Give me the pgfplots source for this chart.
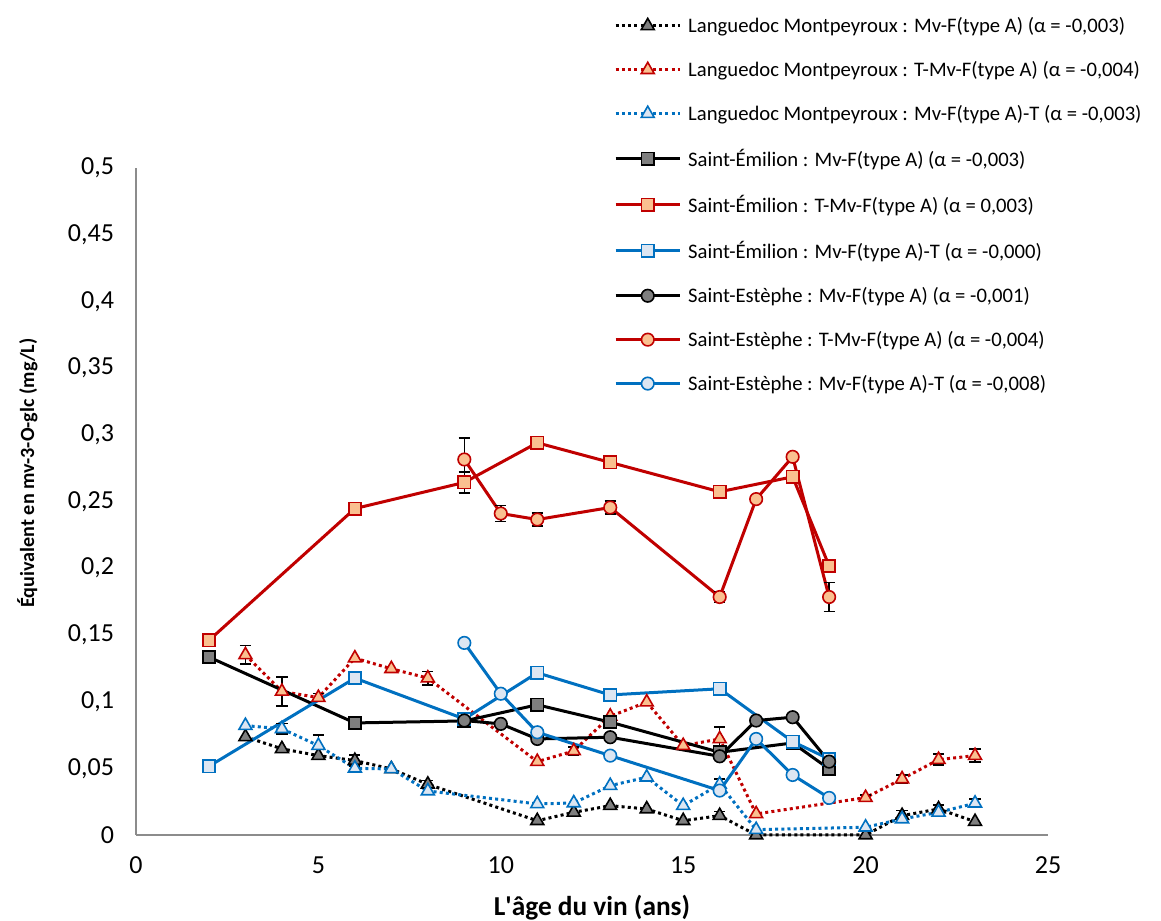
\documentclass[border=0pt]{standalone}
\usepackage{fontspec}
\setmainfont{Carlito}
\usepackage{pgfplots}
\pgfplotsset{compat=1.18}
\definecolor{dred}{HTML}{C00000}
\definecolor{lorange}{HTML}{FAC090}
\definecolor{mblue}{HTML}{0070C0}
\definecolor{lblue}{HTML}{DCE6F2}
\definecolor{mgrey}{HTML}{7F7F7F}
\definecolor{axgrey}{HTML}{8C8C8C}
\pgfplotsset{
  dotl/.style={line width=2.25pt, line cap=butt, dash pattern=on 2.25pt off 2.4pt},
  soll/.style={line width=2.25pt, solid},
  trimk/.style={mark=triangle*, mark size=5.6pt, mark options={solid, line width=1.2pt, fill=#1}},
  sqmk/.style={mark=square*, mark size=4.6pt, mark options={solid, line width=1.2pt, fill=#1}},
  cimk/.style={mark=*, mark size=4.7pt, mark options={solid, line width=1.2pt, fill=#1}},
  errp/.style={black, solid, only marks, forget plot, mark=none,
    error bars/.cd, y dir=both, y explicit, error mark=none,
    error bar style={draw=black, line width=1.2pt, solid}},
  capp/.style={black, solid, only marks, forget plot, mark=|, mark size=4.2pt,
    mark options={line width=1.2pt, solid, rotate=90}},
}
\begin{document}
\begin{tikzpicture}
\useasboundingbox (-102pt,-64.5pt) rectangle (768.75pt,626.25pt);
\begin{axis}[
  scale only axis, width=684pt, height=500.25pt,
  xmin=0, xmax=25, ymin=0, ymax=0.5,
  axis lines*=left,
  axis line style={draw=axgrey, line width=1.5pt, -},
  xtick={0,5,10,15,20,25},
  ytick={0,0.05,0.1,0.15,0.2,0.25,0.3,0.35,0.4,0.45,0.5},
  major tick length=0pt,
  scaled y ticks=false,
  /pgf/number format/use comma,
  /pgf/number format/1000 sep={},
  /pgf/number format/assume math mode=true,
  yticklabel style={/pgf/number format/fixed, /pgf/number format/precision=2, anchor=east, xshift=-13pt},
  xticklabel style={anchor=north, yshift=-13pt},
  ticklabel style={font=\fontsize{19.5}{23}\selectfont},
  xlabel={L\textquotesingle âge du vin (ans)},
  xlabel style={font=\bfseries\fontsize{20.5}{24}\selectfont, at={(axis description cs:0.5,-0.12)}, anchor=base},
  ylabel={Équivalent en mv-3-O-glc (mg/L)},
  ylabel style={font=\bfseries\fontsize{15.1}{18}\selectfont, at={(axis description cs:-0.1118,0.5427)}, anchor=base},
  clip=false,
  legend cell align=left,
  legend style={draw=none, fill=none, at={(axis description cs:0.5241,1.2264)}, anchor=north west,
    inner xsep=0pt, inner ysep=0pt, font=\fontsize{15.5}{18}\selectfont, row sep=20.1pt,
    nodes={inner sep=0pt}, /tikz/every odd column/.style={column sep=5.25pt}},
  legend image code/.code={\draw[#1, mark repeat=2, mark phase=2] plot coordinates {(0pt,0pt) (24pt,0pt) (48pt,0pt)};},
]
% error bars (value +- error)
\addplot[errp] coordinates {(3,0.135)+-(0,0.007) (4,0.1076)+-(0,0.011) (5,0.103)+-(0,0.003) (8,0.1176)+-(0,0.005) (12,0.063)+-(0,0.003) (16,0.072)+-(0,0.009) (20,0.028)+-(0,0.002) (21,0.042)+-(0,0.003) (22,0.0565)+-(0,0.004) (23,0.0595)+-(0,0.005)};
\addplot[errp] coordinates {(4,0.0796)+-(0,0.004) (5,0.067)+-(0,0.008) (16,0.038)+-(0,0.004) (23,0.0238)+-(0,0.003)};
\addplot[errp] coordinates {(6,0.0558)+-(0,0.004) (8,0.038)+-(0,0.003) (16,0.0145)+-(0,0.003) (21,0.0145)+-(0,0.004) (22,0.0195)+-(0,0.003)};
\addplot[errp] coordinates {(9,0.2815)+-(0,0.016) (10,0.241)+-(0,0.006) (11,0.2365)+-(0,0.005) (13,0.2455)+-(0,0.005) (16,0.1784)+-(0,0.004) (19,0.1784)+-(0,0.011)};
\addplot[errp] coordinates {(9,0.2643)+-(0,0.008)};
% error bar caps (value +- error)
\addplot[capp] coordinates {(3,0.142) (3,0.128) (4,0.1186) (4,0.0966) (5,0.106) (5,0.100) (8,0.1226) (8,0.1126) (12,0.066) (12,0.060) (16,0.081) (16,0.063) (20,0.030) (20,0.026) (21,0.045) (21,0.039) (22,0.0605) (22,0.0525) (23,0.0645) (23,0.0545)};
\addplot[capp] coordinates {(4,0.0836) (4,0.0756) (5,0.075) (5,0.059) (16,0.042) (16,0.034) (23,0.0268) (23,0.0208)};
\addplot[capp] coordinates {(6,0.0598) (6,0.0518) (8,0.041) (8,0.035) (16,0.0175) (16,0.0115) (21,0.0185) (21,0.0105) (22,0.0225) (22,0.0165)};
\addplot[capp] coordinates {(9,0.2975) (9,0.2655) (10,0.247) (10,0.235) (11,0.2415) (11,0.2315) (13,0.2505) (13,0.2405) (16,0.1824) (16,0.1744) (19,0.1894) (19,0.1674)};
\addplot[capp] coordinates {(9,0.2723) (9,0.2563)};
% series
\addplot[black, dotl, trimk=mgrey] coordinates {(3,0.0736) (4,0.0646) (5,0.0595) (6,0.0558) (7,0.0495) (8,0.038) (11,0.0107) (12,0.017) (13,0.022) (14,0.0195) (15,0.0107) (16,0.0145) (17,0) (20,0) (21,0.0145) (22,0.0195) (23,0.01)};
\addlegendentry{Languedoc Montpeyroux : Mv-F(type A) (α = -0,003)}
\addplot[dred, dotl, trimk=lorange] coordinates {(3,0.135) (4,0.1076) (5,0.103) (6,0.1326) (7,0.1246) (8,0.1176) (11,0.055) (12,0.063) (13,0.089) (14,0.0996) (15,0.067) (16,0.072) (17,0.0158) (20,0.028) (21,0.042) (22,0.0565) (23,0.0595)};
\addlegendentry{Languedoc Montpeyroux : T-Mv-F(type A) (α = -0,004)}
\addplot[mblue, dotl, trimk=lblue] coordinates {(3,0.082) (4,0.0796) (5,0.067) (6,0.05) (7,0.0495) (8,0.033) (11,0.0233) (12,0.024) (13,0.037) (14,0.0433) (15,0.022) (16,0.038) (17,0.004) (20,0.0058) (21,0.012) (22,0.017) (23,0.0238)};
\addlegendentry{Languedoc Montpeyroux : Mv-F(type A)-T (α = -0,003)}
\addplot[black, soll, sqmk=mgrey] coordinates {(2,0.1334) (6,0.084) (9,0.0855) (11,0.0976) (13,0.0846) (16,0.062) (18,0.069) (19,0.0495)};
\addlegendentry{Saint-Émilion : Mv-F(type A) (α = -0,003)}
\addplot[dred, soll, sqmk=lorange] coordinates {(2,0.1459) (6,0.2447) (9,0.2643) (11,0.294) (13,0.2793) (16,0.2573) (18,0.2685) (19,0.2017)};
\addlegendentry{Saint-Émilion : T-Mv-F(type A) (α = 0,003)}
\addplot[mblue, soll, sqmk=lblue] coordinates {(2,0.0515) (6,0.1176) (9,0.087) (11,0.1216) (13,0.105) (16,0.1096) (18,0.070) (19,0.057)};
\addlegendentry{Saint-Émilion : Mv-F(type A)-T (α = -0,000)}
\addplot[black, soll, cimk=mgrey] coordinates {(9,0.0858) (10,0.0833) (11,0.072) (13,0.0733) (16,0.059) (17,0.0858) (18,0.0883) (19,0.055)};
\addlegendentry{Saint-Estèphe : Mv-F(type A) (α = -0,001)}
\addplot[dred, soll, cimk=lorange] coordinates {(9,0.2815) (10,0.241) (11,0.2365) (13,0.2455) (16,0.1784) (17,0.2518) (18,0.2835) (19,0.1784)};
\addlegendentry{Saint-Estèphe : T-Mv-F(type A) (α = -0,004)}
\addplot[mblue, soll, cimk=lblue] coordinates {(9,0.144) (10,0.1059) (11,0.077) (13,0.0595) (16,0.0333) (17,0.072) (18,0.045) (19,0.0278)};
\addlegendentry{Saint-Estèphe : Mv-F(type A)-T (α = -0,008)}
\end{axis}
\end{tikzpicture}
\end{document}
